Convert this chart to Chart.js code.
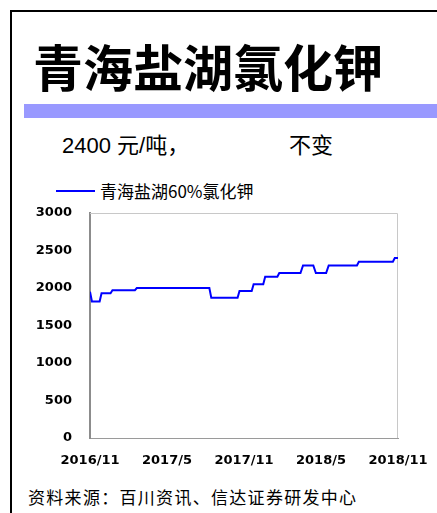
<!DOCTYPE html>
<html>
<head>
<meta charset="utf-8">
<script src="https://cdn.jsdelivr.net/npm/chart.js@4/dist/chart.umd.min.js"></script>
<style>
  html, body { margin: 0; padding: 0; background: #fff; }
  #page { position: relative; width: 437px; height: 513px; overflow: hidden; font-family: 'Liberation Sans', 'Noto Sans CJK SC', sans-serif; }
  .frame-top { position: absolute; left: 10px; top: 10px; width: 427px; height: 2px; background: #000; }
  .frame-left { position: absolute; left: 10px; top: 10px; width: 2px; height: 503px; background: #000; }
  .title { position: absolute; left: 33px; top: 40px; font: 700 50px/1 'Noto Sans CJK SC', sans-serif; color: #000; white-space: nowrap; }
  .bar { position: absolute; left: 24px; top: 104px; width: 413px; height: 14px; background: #9999ff; }
  .sub { position: absolute; top: 134px; font-size: 22px; line-height: 24px; color: #000; white-space: nowrap; }
  .legend { position: absolute; left: 56px; top: 181px; height: 20px; white-space: nowrap; }
  .legend i { position: absolute; left: 0; top: 9px; width: 39px; height: 2px; background: #0000ff; }
  .legend span { position: absolute; left: 44px; top: 0; font: 17px/20px 'Noto Sans CJK SC', sans-serif; color: #000; }
  .source { position: absolute; left: 28px; top: 486px; font: 17px/22px 'Noto Sans CJK SC', sans-serif; letter-spacing: 1.3px; color: #000; white-space: nowrap; }
  #wrap { position: absolute; left: 0; top: 200px; width: 437px; height: 280px; }
</style>
</head>
<body>
<div id="page">
  <div class="frame-top"></div>
  <div class="frame-left"></div>
  <div class="title">青海盐湖氯化钾</div>
  <div class="bar"></div>
  <div class="sub" style="left:62px">2400 元/吨，</div>
  <div class="sub" style="left:289px">不变</div>
  <div class="legend"><i></i><span>青海盐湖60%氯化钾</span></div>
  <div id="wrap"><canvas id="chart"></canvas></div>
  <div class="source">资料来源：百川资讯、信达证券研发中心</div>
</div>
<script>
// months counted from 2016/11
const months = [0, 0.15, 0.75, 0.9, 1.6, 1.75, 3.5, 3.65, 9.3, 9.45, 11.5, 11.65, 12.6, 12.75, 13.5, 13.65, 14.6, 14.75, 16.4, 16.6, 17.4, 17.6, 18.4, 18.6, 20.8, 20.95, 23.6, 23.75, 24];
const prices = [1950, 1820, 1820, 1930, 1930, 1970, 1970, 2000, 2000, 1870, 1870, 1960, 1960, 2050, 2050, 2150, 2150, 2200, 2200, 2300, 2300, 2200, 2200, 2300, 2300, 2350, 2350, 2400, 2400];
const xTickLabels = ['2016/11', '2017/5', '2017/11', '2018/5', '2018/11'];
const seriesName = '青海盐湖60%氯化钾';

const tickFont = { family: "'DejaVu Sans', sans-serif", size: 13, weight: 'bold' };

// thin grey frame on top / right of the plot
const plotFrame = {
  id: 'plotFrame',
  beforeDatasetsDraw(chart) {
    const { ctx, chartArea: a } = chart;
    ctx.save();
    ctx.strokeStyle = '#c8c8c8';
    ctx.lineWidth = 1;
    ctx.beginPath();
    ctx.moveTo(a.left, a.top + 0.5);
    ctx.lineTo(a.right - 0.5, a.top + 0.5);
    ctx.lineTo(a.right - 0.5, a.bottom);
    ctx.stroke();
    ctx.restore();
  },
};

new Chart(document.getElementById('chart').getContext('2d'), {
  type: 'line',
  data: {
    datasets: [{
      label: seriesName,
      data: months.map((m, i) => ({ x: m, y: prices[i] })),
      borderColor: '#0000ff',
      borderWidth: 2,
      pointRadius: 0,
      tension: 0,
      fill: false,
    }],
  },
  options: {
    responsive: true,
    maintainAspectRatio: false,
    animation: false,
    layout: { padding: { left: 0, right: 39, top: 13, bottom: 0 } },
    plugins: { legend: { display: false }, tooltip: { enabled: false } },
    scales: {
      x: {
        type: 'linear', min: 0, max: 24,
        grid: { display: false, drawTicks: false },
        border: { color: '#9a9a9a', width: 1 },
        ticks: { stepSize: 6, padding: 15, maxRotation: 0, color: '#000', font: tickFont,
          callback: v => xTickLabels[v / 6] },
        afterFit: s => { s.height = 42; s.paddingLeft = 0; s.paddingRight = 0; },
      },
      y: {
        min: 0, max: 3000,
        grid: { display: false, drawTicks: false },
        border: { color: '#8c8c8c', width: 2 },
        ticks: { stepSize: 500, padding: 18, color: '#000', font: tickFont, callback: v => String(v) },
        afterFit: s => { s.width = 90; s.paddingTop = 0; s.paddingBottom = 0; },
      },
    },
  },
  plugins: [plotFrame],
});
</script>
</body>
</html>
